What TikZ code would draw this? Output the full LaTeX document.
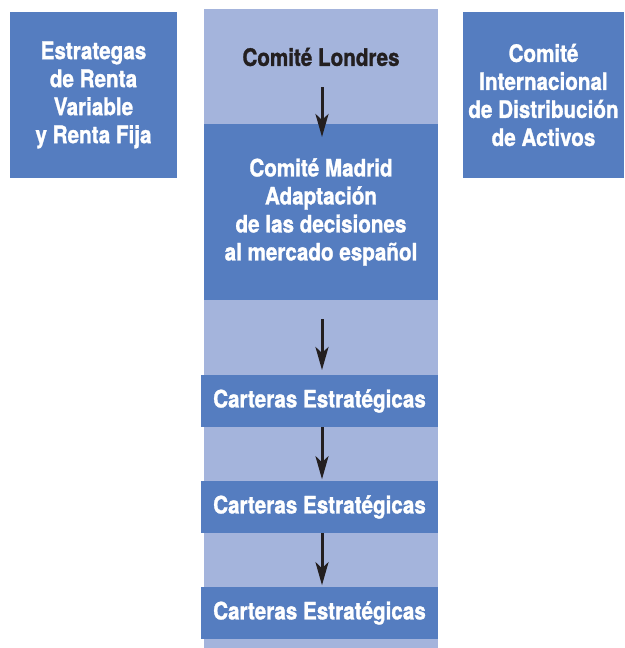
\documentclass[tikz,border=0pt]{standalone}
\usepackage{fontspec}
\setmainfont{TeX Gyre Heros}[FakeStretch=0.86, BoldFeatures={FakeBold=1.2}]
\usetikzlibrary{positioning}
\usetikzlibrary{arrows.meta}
\definecolor{azuld}{HTML}{557DC0}
\definecolor{azull}{HTML}{A4B4DC}
\definecolor{negro}{HTML}{231F20}
\tikzset{
    mybox/.style = {rectangle, inner sep=0pt, align=center, fill=azuld, text=white, font=\bfseries\fontsize{24}{28}\selectfont},
    mycol/.style = {rectangle, inner sep=0pt, fill=azull},
    edgea/.style = {-{Stealth[length=23pt, width=13pt, inset=6pt]}, line width=3pt, negro},
    every picture/.style={font issue=\bfseries},
    font issue/.style={execute at begin picture={#1\selectfont}}
}
\begin{document}
\begin{tikzpicture}[x=1pt, y=-1pt]
\useasboundingbox (0,0) rectangle (624,648);
\node[mycol, minimum width=234pt, minimum height=639pt] at (321, 328.5) (col) {};

\node[mybox, minimum width=167pt, minimum height=166pt] at ( 93.5, 95) (estr) {Estrategas\\de Renta\\Variable\\y Renta Fija};
\node[mybox, minimum width=161pt, minimum height=166pt] at (543.5, 95) (cida) {Comité\\Internacional\\de Distribución\\de Activos};

\node[mybox, fill=none, text=negro] at (321, 57) (lond) {Comité Londres};
\node[mybox, minimum width=234pt, minimum height=176pt] at (321, 212) (madr) {Comité Madrid\\Adaptación\\de las decisiones\\al mercado español};
\node[mybox, minimum width=237pt, minimum height=52pt] at (319.5, 401) (cart1) {Carteras Estratégicas};
\node[mybox, minimum width=237pt, minimum height=52pt] at (319.5, 507) (cart2) {Carteras Estratégicas};
\node[mybox, minimum width=237pt, minimum height=52pt] at (319.5, 613) (cart3) {Carteras Estratégicas};

\coordinate (a1) at (322, 87);
\coordinate (b1) at (322, 137);
\coordinate (a2) at (322, 319);
\coordinate (b2) at (322, 370);

\draw[edgea] (a1) -- (b1);
\draw[edgea] (a2) -- (b2);
\draw[edgea] (cart1.south -| a1) -- ++(0, 52);
\draw[edgea] (cart2.south -| a1) -- ++(0, 52);

\end{tikzpicture}
\end{document}
